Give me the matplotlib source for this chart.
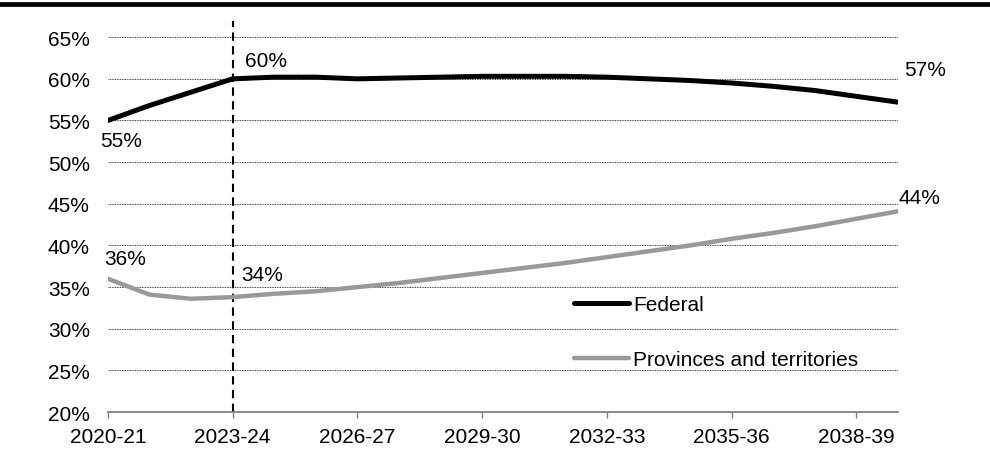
import matplotlib
matplotlib.use("Agg")
import matplotlib.pyplot as plt
from matplotlib.lines import Line2D
import numpy as np

plt.rcParams['font.family'] = ['Liberation Sans', 'DejaVu Sans']

# annees fiscales 2020-21 .. 2039-40
years = [f"{y}-{str(y + 1)[-2:]}" for y in range(2020, 2040)]
federal = [55.0, 56.8, 58.4, 60.0, 60.2, 60.2, 60.0, 60.1, 60.2, 60.3,
           60.3, 60.3, 60.2, 60.0, 59.8, 59.5, 59.1, 58.6, 57.9, 57.2]
provinces = [36.0, 34.1, 33.6, 33.8, 34.2, 34.5, 35.0, 35.5, 36.1, 36.7,
             37.3, 37.9, 38.6, 39.3, 40.0, 40.8, 41.5, 42.3, 43.2, 44.1]
yticks = [20, 25, 30, 35, 40, 45, 50, 55, 60, 65]
tick_idx = [0, 3, 6, 9, 12, 15, 18]
split_idx = 3  # 2023-24, debut de la projection

x = np.arange(len(years))
FS = 15

fig = plt.figure(figsize=(9.9, 4.6), dpi=100)
ax = fig.add_axes([0.109, 0.102, 0.798, 0.815])

ax.plot(x, federal, color='black', lw=3.6, solid_capstyle='round', label='Federal', zorder=3)
ax.plot(x, provinces, color='#999999', lw=3.2, solid_capstyle='round',
        label='Provinces and territories', zorder=3)

ax.axvline(split_idx, ymin=0, ymax=(67 - 20) / 45, color='black', lw=1.5,
           linestyle=(0, (4, 2.6)), clip_on=False, zorder=2)

ax.set_xlim(0, len(years) - 1)
ax.set_ylim(20, 65)
ax.set_yticks(yticks)
ax.set_yticklabels([f"{v}%" for v in yticks])
ax.set_xticks(tick_idx)
ax.set_xticklabels([years[i] for i in tick_idx])
ax.grid(axis='y', color='black', linestyle=(0, (1, 1)), lw=0.6)
ax.set_axisbelow(True)

for s in ['left', 'right', 'top']:
    ax.spines[s].set_visible(False)
ax.spines['bottom'].set_color('#808080')
ax.spines['bottom'].set_linewidth(1.3)
ax.tick_params(axis='y', length=0, pad=13, labelsize=FS)
ax.tick_params(axis='x', length=4, width=1, color='#808080', direction='out', pad=7, labelsize=FS)

# etiquettes de valeurs
def lab(i, series, dx, dy):
    ax.annotate(f"{round(series[i])}%", (x[i], series[i]), xytext=(dx * 0.72, dy * 0.72),
                textcoords='offset points', ha='center', va='center', fontsize=FS,
                annotation_clip=False)

last = len(years) - 1
lab(0, federal, 13, -20)
lab(split_idx, federal, 33, 18)
lab(last, federal, 27, 33)
lab(0, provinces, 17, 20)
lab(split_idx, provinces, 30, 23)
lab(last, provinces, 22, 14)

ax.legend(loc='upper left', bbox_to_anchor=(0.58, 0.335), frameon=False, fontsize=FS,
          handlelength=2.6, handletextpad=0.2, labelspacing=1.75, borderaxespad=0)

fig.add_artist(Line2D([0, 1], [1 - 5 / 460, 1 - 5 / 460], color='black', lw=3.4))

fig.savefig('out.png', dpi=100)
